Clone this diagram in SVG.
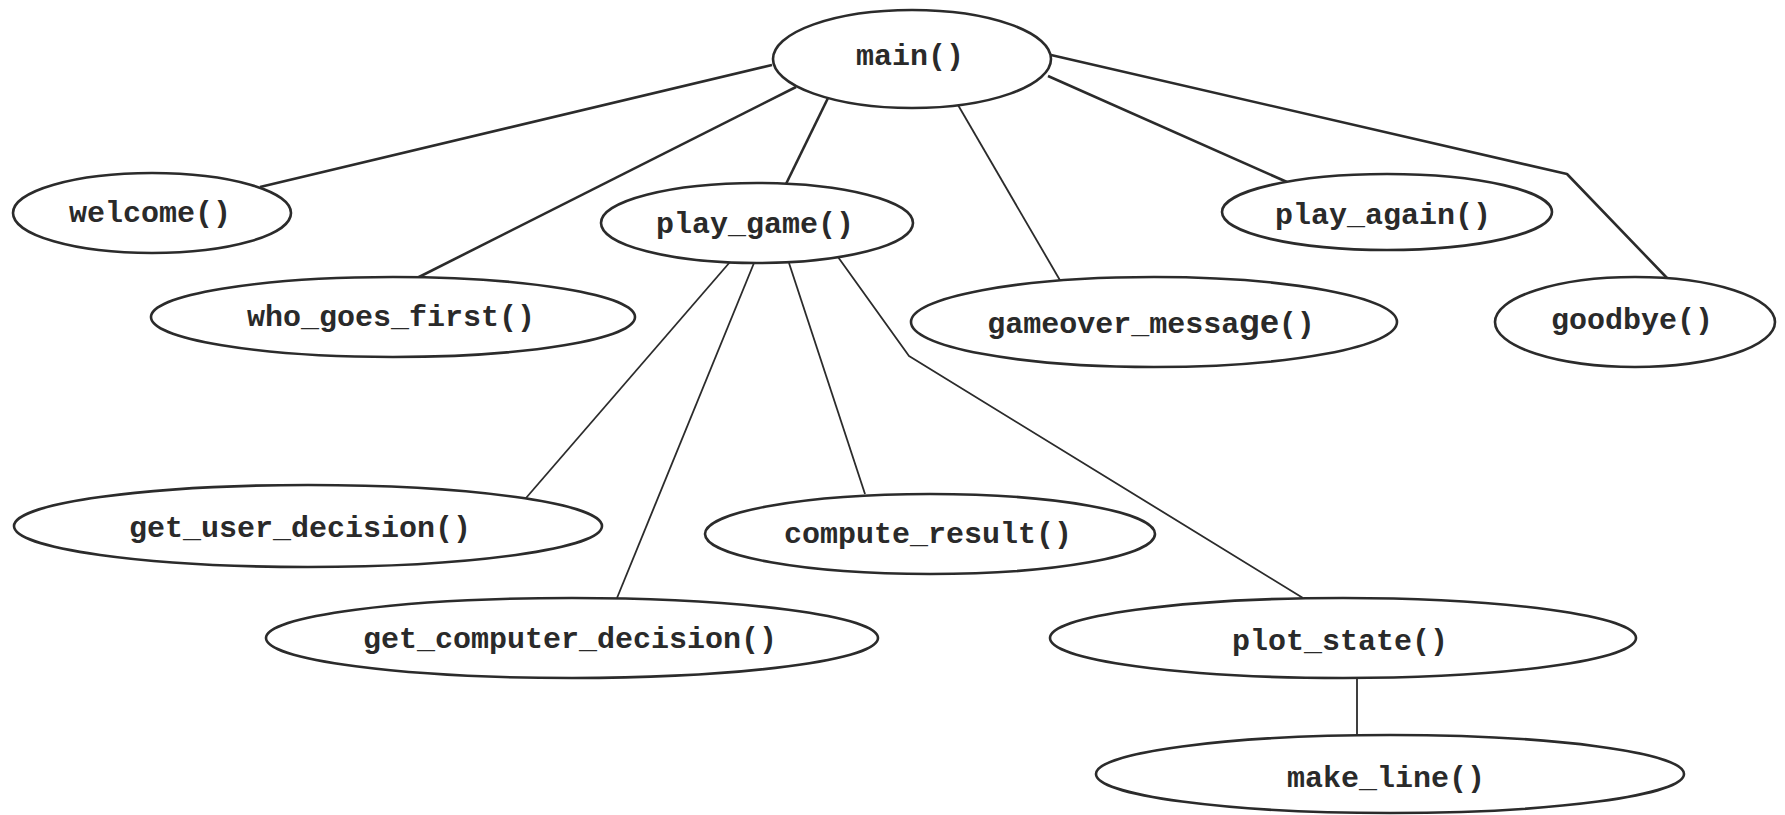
<svg xmlns="http://www.w3.org/2000/svg" width="1785" height="815" viewBox="0 0 1785 815">
  <style>
    .node ellipse { fill: #ffffff; stroke: #2b2b2b; stroke-width: 2.6; }
    .node text { font-family: "Liberation Mono", "DejaVu Sans Mono", monospace; font-weight: bold; font-size: 30px; fill: #2a2a2a; text-anchor: middle; }
    .edge { fill: none; stroke: #2b2b2b; stroke-linejoin: round; }
    .edge.top { stroke-width: 2.6; }
    .edge.sub { stroke-width: 1.8; }
  </style>
  <rect width="1785" height="815" fill="#ffffff"/>

  <!-- call edges -->
  <g id="connectors">
    <line class="edge top" x1="772" y1="65" x2="260" y2="187"/>
    <line class="edge top" x1="796" y1="87" x2="417" y2="278"/>
    <line class="edge top" x1="828" y1="98" x2="786" y2="184"/>
    <line class="edge sub" x1="958" y1="105" x2="1061" y2="282"/>
    <line class="edge top" x1="1048" y1="76" x2="1287" y2="182"/>
    <polyline class="edge top" points="1051,55 1567,174 1667,278"/>
    <line class="edge sub" x1="730" y1="262" x2="526" y2="498"/>
    <line class="edge sub" x1="754" y1="263" x2="617" y2="598"/>
    <line class="edge sub" x1="789" y1="263" x2="865" y2="494"/>
    <polyline class="edge sub" points="838,257 909,356 1303,598"/>
    <line class="edge sub" x1="1357" y1="678" x2="1357" y2="735"/>
  </g>

  <g id="main" class="node">
    <ellipse cx="912" cy="59" rx="139" ry="49"/>
    <text x="910" y="65">main()</text>
  </g>
  <g id="welcome" class="node">
    <ellipse cx="152" cy="213" rx="139" ry="40"/>
    <text x="150" y="222">welcome()</text>
  </g>
  <g id="play_game" class="node">
    <ellipse cx="757" cy="223" rx="156" ry="40"/>
    <text x="755" y="233">play_game()</text>
  </g>
  <g id="who_goes_first" class="node">
    <ellipse cx="393" cy="317" rx="242" ry="40"/>
    <text x="391" y="326">who_goes_first()</text>
  </g>
  <g id="gameover_message" class="node">
    <ellipse cx="1154" cy="322" rx="243" ry="45"/>
    <text x="1151" y="333">gameover_messa<tspan font-family="Liberation Sans, sans-serif" font-size="34">ge</tspan>()</text>
  </g>
  <g id="play_again" class="node">
    <ellipse cx="1387" cy="212" rx="165" ry="38"/>
    <text x="1383" y="224">play_again()</text>
  </g>
  <g id="goodbye" class="node">
    <ellipse cx="1635" cy="322" rx="140" ry="45"/>
    <text x="1632" y="329">goodbye()</text>
  </g>
  <g id="get_user_decision" class="node">
    <ellipse cx="308" cy="526" rx="294" ry="41"/>
    <text x="300" y="537">get_user_decision()</text>
  </g>
  <g id="get_computer_decision" class="node">
    <ellipse cx="572" cy="638" rx="306" ry="40"/>
    <text x="570" y="648">get_computer_decision()</text>
  </g>
  <g id="compute_result" class="node">
    <ellipse cx="930" cy="534" rx="225" ry="40"/>
    <text x="928" y="543">compute_result()</text>
  </g>
  <g id="plot_state" class="node">
    <ellipse cx="1343" cy="638" rx="293" ry="40"/>
    <text x="1340" y="650">plot_state()</text>
  </g>
  <g id="make_line" class="node">
    <ellipse cx="1390" cy="774" rx="294" ry="39"/>
    <text x="1386" y="787">make_line()</text>
  </g>
</svg>
